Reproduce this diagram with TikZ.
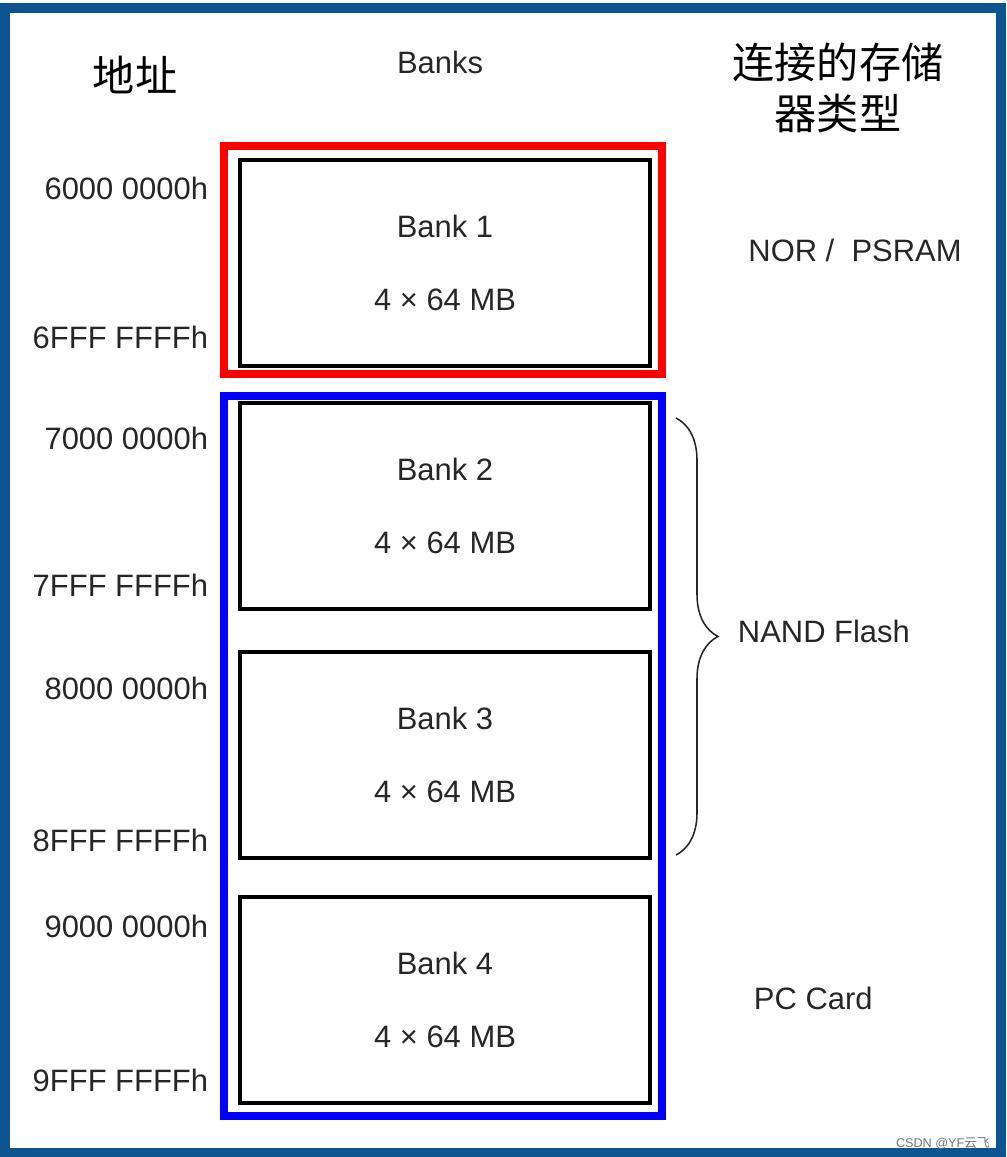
\documentclass[tikz,border=0pt]{standalone}
\usepackage{fontspec}
\setmainfont{Liberation Sans}
\newfontfamily\cjk{Noto Sans CJK SC}
\usetikzlibrary{positioning,calc,decorations.pathreplacing}
\definecolor{framenavy}{RGB}{12,84,146}
\definecolor{norred}{RGB}{255,0,0}
\definecolor{nandblue}{RGB}{0,0,255}

\begin{document}
\begin{tikzpicture}[x=0.025cm,y=-0.025cm,
  bank/.style={draw=black,line width=0.1cm,minimum width=10.25cm,minimum height=5.15cm,align=center,font=\fontsize{22}{52}\selectfont,text=black!85},
  addr/.style={anchor=east,font=\fontsize{22}{26}\selectfont,text=black!85},
  memtype/.style={anchor=west,font=\fontsize{22}{26}\selectfont,text=black!85}]
\useasboundingbox (0,0) rectangle (1006,1157);
\draw[framenavy,line width=0.25cm] (4.5,8) rectangle (1001,1152.5);

% column heads
\node[font=\cjk\fontsize{30}{36}\selectfont] (haddr) at (135,75) {地址};
\node[font=\fontsize{22}{26}\selectfont,text=black!85] (hbank) at (440,62) {Banks};
\node[font=\cjk\fontsize{30}{36}\selectfont,align=center] (htype) at (838,88) {连接的存储\\器类型};

% banks and their frames
\draw[norred,line width=0.2cm] (224,146) rectangle (662,374);
\draw[nandblue,line width=0.2cm] (224,396) rectangle (662,1116);
\node[bank] (b1) at (445,263) {Bank 1\\4 × 64 MB};
\node[bank] (b2) at (445,506) {Bank 2\\4 × 64 MB};
\node[bank] (b3) at (445,755) {Bank 3\\4 × 64 MB};
\node[bank] (b4) at (445,1000) {Bank 4\\4 × 64 MB};

% addresses
\node[addr] (a6s) at (213,188) {6000 0000h};
\node[addr] (a6e) at (213,337) {6FFF FFFFh};
\node[addr] (a7s) at (213,438) {7000 0000h};
\node[addr] (a7e) at (213,585) {7FFF FFFFh};
\node[addr] (a8s) at (213,688) {8000 0000h};
\node[addr] (a8e) at (213,840) {8FFF FFFFh};
\node[addr] (a9s) at (213,926) {9000 0000h};
\node[addr] (a9e) at (213,1080) {9FFF FFFFh};

% memory types
\node[font=\fontsize{22}{26}\selectfont,text=black!85] (tnor) at (855,250) {NOR /\ \ PSRAM};
\node[memtype] (tnand) at (733,631) {NAND Flash};
\node[memtype] (tpc) at (749,998) {PC Card};
\coordinate (bt) at (676,418);
\coordinate (bb) at (676,855);
\draw[decorate,decoration={brace,amplitude=1.05cm},line width=1.1pt,black!85] (bt) -- (bb);

\node[anchor=base east,font=\fontsize{9}{10}\selectfont,text=black!55,inner sep=0pt] (mark) at (990,1147) {CSDN @YF{\cjk 云飞}};
\end{tikzpicture}
\end{document}
